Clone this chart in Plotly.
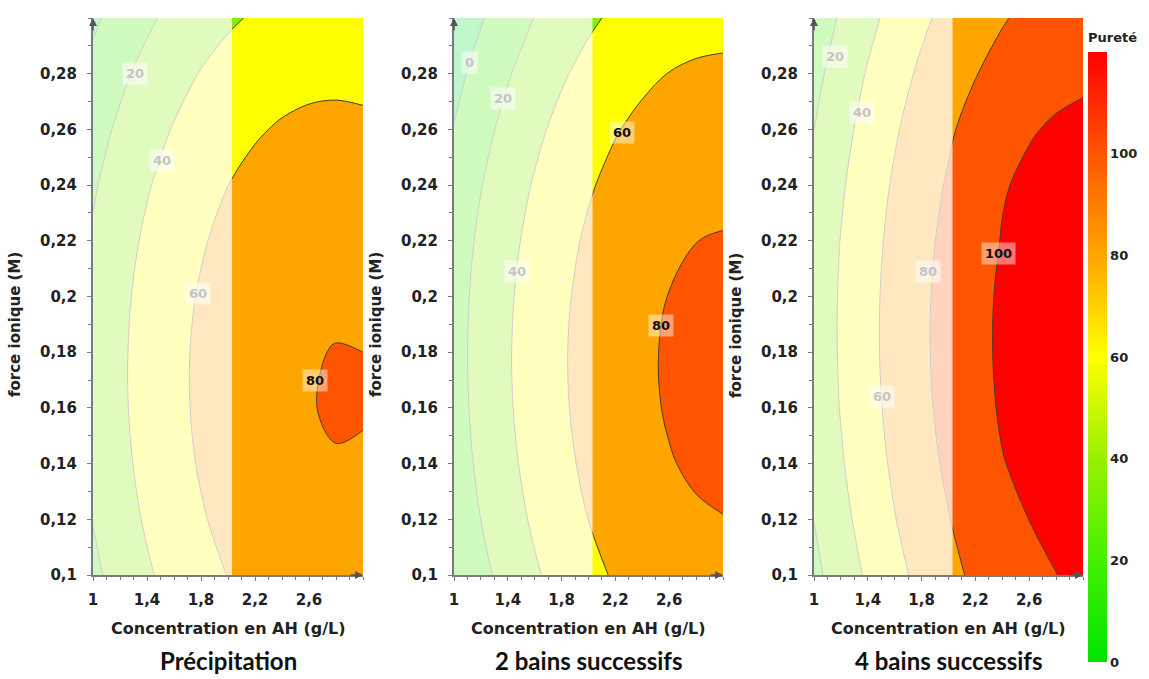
import plotly.graph_objects as go

# ---------------- data ----------------
conc = [1.0, 1.2, 1.4, 1.6, 1.8, 2.0, 2.2, 2.4, 2.6, 2.8, 3.0]          # Concentration en AH (g/L)
force = [0.10, 0.12, 0.14, 0.16, 0.18, 0.20, 0.22, 0.24, 0.26, 0.28, 0.30]  # force ionique (M)

# Pureté, one row per force value
purete_precip = [
    [15.9, 27.4, 37.6, 46.5, 54.1, 60.4, 65.5, 69.3, 71.7, 72.9, 72.9],
    [20.6, 32.0, 42.2, 51.0, 58.5, 64.8, 69.8, 73.5, 75.9, 77.0, 76.9],
    [23.9, 35.2, 45.3, 54.0, 61.5, 67.7, 72.6, 76.2, 78.5, 79.6, 79.4],
    [25.7, 36.9, 46.9, 55.6, 63.0, 69.1, 73.9, 77.5, 79.7, 80.7, 80.4],
    [26.0, 37.1, 47.0, 55.7, 63.0, 69.0, 73.8, 77.2, 79.4, 80.3, 80.0],
    [24.8, 35.9, 45.7, 54.2, 61.5, 67.5, 72.1, 75.5, 77.7, 78.5, 78.0],
    [22.1, 33.2, 42.9, 51.4, 58.5, 64.4, 69.0, 72.4, 74.4, 75.2, 74.6],
    [18.0, 28.9, 38.6, 47.0, 54.1, 59.9, 64.4, 67.7, 69.7, 70.4, 69.8],
    [12.4, 23.2, 32.8, 41.1, 48.2, 53.9, 58.4, 61.6, 63.5, 64.1, 63.4],
    [5.3, 16.1, 25.6, 33.8, 40.8, 46.4, 50.8, 53.9, 55.8, 56.3, 55.5],
    [-3.3, 7.4, 16.8, 25.0, 31.9, 37.5, 41.8, 44.8, 46.6, 47.0, 46.2],
]
purete_2bains = [
    [1.4, 14.9, 27.0, 37.7, 47.1, 55.1, 61.8, 67.1, 71.1, 73.7, 74.9],
    [6.7, 20.1, 32.1, 42.8, 52.2, 60.1, 66.8, 72.0, 75.9, 78.5, 79.7],
    [10.4, 23.8, 35.8, 46.4, 55.7, 63.6, 70.2, 75.4, 79.3, 81.8, 83.0],
    [12.6, 25.9, 37.9, 48.5, 57.7, 65.6, 72.1, 77.3, 81.1, 83.6, 84.7],
    [13.3, 26.6, 38.5, 49.0, 58.2, 66.1, 72.5, 77.7, 81.5, 83.9, 84.9],
    [12.5, 25.7, 37.5, 48.0, 57.2, 65.0, 71.4, 76.5, 80.3, 82.6, 83.7],
    [10.1, 23.3, 35.1, 45.6, 54.7, 62.4, 68.8, 73.8, 77.5, 79.9, 80.8],
    [6.2, 19.4, 31.1, 41.5, 50.6, 58.3, 64.7, 69.7, 73.3, 75.6, 76.5],
    [0.8, 13.9, 25.6, 36.0, 45.0, 52.7, 59.0, 63.9, 67.5, 69.8, 70.7],
    [-6.1, 7.0, 18.6, 29.0, 37.9, 45.5, 51.8, 56.7, 60.3, 62.4, 63.3],
    [-14.5, -1.5, 10.1, 20.4, 29.3, 36.9, 43.1, 47.9, 51.5, 53.6, 54.4],
]
purete_4bains = [
    [15.2, 29.5, 42.6, 54.5, 65.1, 74.5, 83.7, 91.1, 95.4, 99.9, 101.6],
    [20.3, 34.6, 47.6, 59.4, 70.0, 79.4, 88.5, 95.9, 100.1, 104.6, 106.3],
    [24.1, 38.3, 51.3, 63.1, 73.6, 83.0, 92.0, 99.4, 103.6, 108.0, 109.7],
    [26.6, 40.8, 53.7, 65.5, 76.0, 85.3, 94.3, 101.7, 105.8, 110.1, 111.8],
    [27.8, 41.9, 54.9, 66.6, 77.0, 86.3, 95.3, 102.6, 106.7, 111.0, 112.6],
    [27.7, 41.8, 54.7, 66.4, 76.8, 86.0, 95.0, 102.3, 106.3, 110.6, 112.2],
    [26.4, 40.5, 53.3, 64.9, 75.3, 84.5, 93.4, 100.7, 104.6, 108.9, 110.5],
    [23.8, 37.8, 50.6, 62.2, 72.5, 81.7, 90.6, 99.0, 102.5, 105.9, 107.5],
    [19.9, 33.8, 46.6, 58.2, 68.5, 77.6, 86.4, 93.6, 99.0, 101.5, 103.2],
    [14.7, 28.6, 41.4, 52.9, 63.1, 72.2, 79.3, 86.6, 92.0, 96.2, 97.6],
    [8.2, 22.1, 34.8, 46.3, 56.5, 65.5, 72.5, 78.5, 84.5, 89.4, 90.7],
]

panel_titles = ["Précipitation", "2 bains successifs", "4 bains successifs"]

x_tickvals = [1.0, 1.4, 1.8, 2.2, 2.6]
x_ticktext = ["1", "1,4", "1,8", "2,2", "2,6"]
y_tickvals = [0.10, 0.12, 0.14, 0.16, 0.18, 0.20, 0.22, 0.24, 0.26, 0.28]
y_ticktext = ["0,1", "0,12", "0,14", "0,16", "0,18", "0,2", "0,22", "0,24", "0,26", "0,28"]
cbar_tickvals = [0, 20, 40, 60, 80, 100]

# contour labels: (text, conc, force)
labels_precip = [("20", 1.309, 0.280), ("40", 1.511, 0.249), ("60", 1.778, 0.201), ("80", 2.642, 0.170)]
labels_2bains = [("0", 1.114, 0.284), ("20", 1.366, 0.271), ("40", 1.465, 0.209),
                 ("60", 2.250, 0.259), ("80", 2.542, 0.1895)]
labels_4bains = [("20", 1.156, 0.286), ("40", 1.354, 0.266), ("60", 1.502, 0.164),
                 ("80", 1.849, 0.209), ("100", 2.369, 0.2154)]

# ---------------- style ----------------
FADE_X = 2.03          # left part of each map is shown washed out
FADE_ALPHA = 0.75
band_scale = [[0, '#00DD33'], [1/6, '#44EE00'], [2/6, '#88EE00'], [3/6, '#FFFF00'],
              [4/6, '#FFA500'], [5/6, '#FF5500'], [1, '#FF0000']]
bar_scale = [[0, '#00E400'], [20/120, '#44F000'], [40/120, '#99F000'], [60/120, '#FFFF00'],
             [80/120, '#FFA500'], [100/120, '#FF5500'], [1, '#FF0000']]
SANS = "DejaVu Sans, Verdana, sans-serif"
TICKFONT = dict(family=SANS, size=15, color="#222", weight="bold")
XTITLEFONT = dict(family=SANS, size=16, color="#222", weight="bold")
YTITLEFONT = dict(family=SANS, size=15, color="#222", weight="bold")
TITLEFONT = dict(family="Lato, 'Open Sans', sans-serif", size=24, color="#111", weight="bold")

W, H = 1149, 679
x_doms = [[93 / W, 363 / W], [454 / W, 723 / W], [814 / W, 1083 / W]]
y_dom = [(H - 575) / H, (H - 18) / H]

fig = go.Figure()
datasets = [purete_precip, purete_2bains, purete_4bains]
label_sets = [labels_precip, labels_2bains, labels_4bains]
annotations = []
shapes = []

for i, z in enumerate(datasets):
    sfx = '' if i == 0 else str(i + 1)
    xa, ya = 'x' + sfx, 'y' + sfx
    fig.add_trace(go.Contour(
        x=conc, y=force, z=z, xaxis=xa, yaxis=ya,
        colorscale=band_scale, showscale=False,
        contours=dict(start=0, end=100, size=20, coloring='fill', showlabels=False),
        line=dict(color='#4a3a2a', width=1, smoothing=1.0),
        hoverinfo='skip'))

    axis_common = dict(showline=True, linecolor='#7a7a82', linewidth=2, mirror=False,
                       ticks='outside', ticklen=4, tickwidth=1, tickcolor='#7a7a82',
                       tickfont=TICKFONT, showgrid=False, zeroline=False, fixedrange=True)
    fig.layout['xaxis' + sfx] = dict(
        domain=x_doms[i], range=[1, 3], anchor=ya,
        tickmode='array', tickvals=x_tickvals, ticktext=x_ticktext,
        ticklabelstandoff=6,
        minor=dict(tickmode='linear', tick0=1, dtick=0.1, ticks='outside', ticklen=3, tickcolor='#7a7a82'),
        **axis_common)
    fig.layout['yaxis' + sfx] = dict(
        domain=y_dom, range=[0.1, 0.3], anchor=xa,
        tickmode='array', tickvals=y_tickvals, ticktext=y_ticktext,
        ticklabelstandoff=7,
        minor=dict(tickmode='linear', tick0=0.1, dtick=0.01, ticks='outside', ticklen=3, tickcolor='#7a7a82'),
        **axis_common)

    # washed-out left part
    shapes.append(dict(type='rect', xref=xa, yref=ya, x0=1.0, x1=FADE_X, y0=0.1, y1=0.3,
                       fillcolor=f'rgba(255,255,255,{FADE_ALPHA})', line=dict(width=0), layer='above'))

    # contour labels
    for txt, cx, cy in label_sets[i]:
        faded = cx < FADE_X
        annotations.append(dict(
            x=cx, y=cy, xref=xa, yref=ya, text=txt, showarrow=False,
            font=dict(family=SANS, size=13, color='#c4c4c4' if faded else '#111', weight='bold'),
            bgcolor='rgba(255,255,255,0.55)' if faded else 'rgba(255,255,255,0.45)',
            borderpad=3))

    # axis arrows
    annotations.append(dict(x=1, y=0, xref=xa + ' domain', yref=ya + ' domain', ax=-14, ay=0,
                            text='', showarrow=True, arrowhead=2, arrowsize=1, arrowwidth=1.6,
                            arrowcolor='#555', standoff=0))
    annotations.append(dict(x=0, y=1, xref=xa + ' domain', yref=ya + ' domain', ax=0, ay=14,
                            text='', showarrow=True, arrowhead=2, arrowsize=1, arrowwidth=1.6,
                            arrowcolor='#555', standoff=0))

    # axis titles
    annotations.append(dict(x=0.5, y=(H - 628) / H, xref=xa + ' domain', yref='paper',
                            text='Concentration en AH (g/L)', showarrow=False,
                            font=XTITLEFONT, xanchor='center', yanchor='middle'))
    annotations.append(dict(x=0, y=(H - 325) / H, xref=xa + ' domain', yref='paper',
                            xshift=-78, text='force ionique (M)', textangle=-90, showarrow=False,
                            font=YTITLEFONT, xanchor='center', yanchor='middle'))
    # panel title
    annotations.append(dict(x=0.5, y=(H - 660) / H, xref=xa + ' domain', yref='paper',
                            text=panel_titles[i], showarrow=False, font=TITLEFONT,
                            xanchor='center', yanchor='middle'))

# colour bar (continuous Pureté scale)
fig.add_trace(go.Scatter(
    x=[None], y=[None], mode='markers', xaxis='x3', yaxis='y3', hoverinfo='skip', showlegend=False,
    marker=dict(color=[0], cmin=0, cmax=120, colorscale=bar_scale, showscale=True,
                colorbar=dict(x=1088 / W, xanchor='left', y=(H - 662) / H, yanchor='bottom',
                              len=610 / H, lenmode='fraction', thickness=19, outlinewidth=0,
                              tickmode='array', tickvals=cbar_tickvals, ticks='',
                              tickfont=dict(family=SANS, size=13, color='#222', weight='bold'),
                              xpad=0, ypad=0))))

annotations.append(dict(x=1086 / W, y=(H - 37) / H, xref='paper', yref='paper', text='Pureté',
                        showarrow=False, xanchor='left', yanchor='middle',
                        font=dict(family=SANS, size=13, color='#222', weight='bold')))

fig.update_layout(width=W, height=H, margin=dict(l=0, r=0, t=0, b=0, autoexpand=False),
                  paper_bgcolor='white', plot_bgcolor='white', showlegend=False,
                  annotations=annotations, shapes=shapes)
fig.write_html('out.html', config={'displayModeBar': False},
               post_script="document.body.style.margin='0';document.body.style.overflow='hidden';")
